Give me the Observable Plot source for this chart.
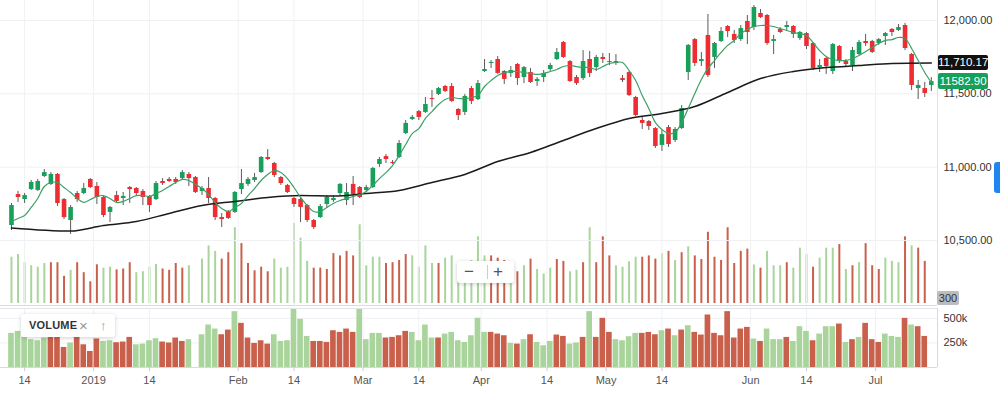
<!DOCTYPE html>
<html><head><meta charset="utf-8">
<script src="https://cdn.jsdelivr.net/npm/d3@7"></script>
<script src="https://cdn.jsdelivr.net/npm/@observablehq/plot@0.6"></script>
<style>
body{margin:0;background:#fff;font-family:"Liberation Sans",Arial,sans-serif;}
#wrap{position:relative;width:1000px;height:393px;overflow:hidden;background:#fff;}
#wrap svg{position:absolute;left:0;}
.deco{position:absolute;box-sizing:border-box;}
</style></head><body><div id="wrap"></div>
<script>
// ---- data (trading-day index i = 0..140) ----
const opens  = [10602,10813,10779,10847,10841,10936,10882,10950,10779,10636,10820,10820,10916,10868,10793,10691,10806,10786,10861,10854,10834,10800,10779,10902,10916,10916,10922,10950,10929,10834,10854,10786,10656,10697,10691,10847,10882,10909,10963,11066,11025,10929,10875,10786,10779,10738,10636,10656,10745,10772,10820,10772,10882,10861,10841,10861,11018,11072,11032,11066,11229,11325,11379,11373,11468,11495,11550,11550,11393,11373,11536,11461,11652,11707,11734,11652,11639,11700,11611,11645,11584,11611,11666,11734,11850,11720,11611,11604,11734,11679,11748,11720,11720,11604,11645,11475,11318,11311,11263,11148,11270,11182,11263,11645,11870,11720,11898,11748,11857,11959,11905,11870,11993,11952,12048,12034,11857,11939,11952,11959,11877,11911,11843,11679,11741,11652,11823,11720,11693,11768,11857,11857,11843,11891,11939,11932,11966,11768,11536,11536,11557];
const highs  = [10752,10834,10820,10909,10916,10984,10963,10957,10786,10738,10834,10888,10922,10895,10800,10732,10834,10827,10868,10861,10847,10806,10902,10922,10929,10929,10977,10963,10936,10868,10929,10793,10684,10704,10834,10984,10929,10957,11072,11120,11032,10936,10882,10793,10786,10745,10643,10745,10806,10806,10888,10888,10936,10868,10875,10998,11066,11086,11045,11182,11318,11352,11386,11475,11523,11543,11557,11570,11400,11495,11550,11591,11734,11727,11754,11659,11686,11707,11686,11673,11611,11659,11707,11809,11857,11727,11625,11795,11789,11761,11775,11775,11768,11625,11652,11482,11345,11318,11270,11250,11284,11270,11420,11836,11877,11782,12041,11850,11952,11966,11932,11966,12034,12102,12075,12041,11898,11952,11993,11966,11925,11918,11850,11734,11748,11843,11830,11734,11816,11864,11905,11864,11877,11918,11945,11973,11980,11775,11591,11577,11611];
const lows   = [10568,10759,10752,10841,10834,10929,10875,10731,10643,10541,10759,10813,10854,10745,10656,10622,10752,10738,10752,10806,10738,10691,10772,10875,10895,10882,10909,10868,10820,10806,10752,10636,10588,10643,10684,10813,10868,10895,10957,11045,10929,10875,10820,10725,10622,10622,10575,10650,10718,10759,10800,10738,10738,10786,10827,10854,10998,11025,11018,11059,11222,11318,11318,11366,11407,11488,11509,11441,11318,11352,11427,11454,11645,11673,11632,11564,11611,11557,11570,11570,11550,11577,11652,11727,11741,11577,11557,11591,11611,11652,11707,11693,11693,11577,11482,11345,11257,11250,11127,11107,11134,11168,11257,11591,11686,11686,11611,11673,11850,11884,11843,11857,11836,11932,12014,11830,11768,11911,11932,11877,11864,11802,11659,11645,11632,11632,11707,11686,11652,11761,11823,11775,11830,11830,11891,11925,11795,11523,11461,11475,11516];
const closes = [10738,10793,10806,10895,10902,10963,10950,10752,10656,10725,10779,10854,10861,10793,10670,10725,10766,10800,10847,10820,10793,10738,10888,10888,10902,10895,10963,10922,10827,10854,10786,10656,10643,10650,10827,10888,10916,10929,11066,11052,10943,10888,10827,10745,10725,10636,10588,10731,10793,10786,10882,10827,10813,10793,10861,10991,11052,11052,11025,11161,11298,11339,11339,11427,11461,11536,11516,11448,11352,11482,11448,11570,11666,11714,11639,11598,11659,11604,11679,11577,11598,11639,11693,11782,11748,11584,11570,11720,11639,11748,11734,11714,11707,11591,11488,11352,11298,11277,11141,11222,11154,11257,11400,11830,11707,11734,11625,11843,11925,11925,11864,11945,11918,12089,12020,11843,11870,11918,11966,11905,11918,11823,11673,11693,11686,11836,11720,11700,11795,11850,11843,11782,11870,11911,11918,11952,11809,11557,11557,11502,11582.90];
// short moving average (green), one reading per day
const fastMA = [10629,10650,10670,10725,10786,10868,10895,10895,10861,10827,10786,10759,10779,10800,10806,10786,10759,10766,10786,10806,10806,10800,10820,10841,10868,10895,10916,10909,10882,10854,10813,10759,10718,10697,10725,10752,10806,10854,10909,10950,10977,10963,10922,10861,10793,10738,10697,10697,10725,10752,10772,10786,10800,10813,10834,10875,10922,10963,11011,11079,11154,11229,11263,11332,11379,11427,11461,11475,11468,11468,11475,11489,11550,11591,11625,11645,11652,11652,11645,11639,11632,11639,11652,11666,11686,11693,11686,11680,11680,11666,11686,11707,11714,11714,11659,11591,11489,11400,11304,11257,11229,11236,11304,11400,11502,11598,11673,11727,11782,11830,11864,11911,11939,11959,11966,11966,11959,11945,11932,11918,11911,11898,11850,11795,11755,11734,11727,11727,11741,11761,11789,11816,11843,11864,11870,11884,11877,11809,11727,11645,11577];
// long moving average (black), read at these day indices
const slowIdx = [0,9,14,19,24,29,34,39,44,49,54,59,64,69,74,79,84,89,94,99,104,109,114,119,124,129,134,140];
const slowMA  = [10585,10564,10602,10629,10684,10738,10766,10793,10806,10803,10820,10841,10895,10950,11038,11100,11182,11263,11332,11366,11413,11509,11604,11652,11679,11693,11707,11710.17];
// volume in thousands (day 28 missing), direction u = up / d = down
const volumes = [347,367,306,283,272,300,306,306,204,249,306,231,163,290,265,272,252,259,306,231,238,272,293,259,249,300,265,283,null,333,432,391,333,381,568,449,300,245,272,238,333,265,272,600,490,316,265,265,255,374,357,391,357,590,283,347,347,300,306,323,367,357,272,432,300,300,340,357,272,255,323,500,357,357,340,323,245,238,283,333,255,221,265,330,316,238,249,306,568,306,500,357,283,272,313,347,347,357,333,374,391,323,381,425,357,330,534,347,323,568,300,391,408,289,265,391,283,283,306,265,415,367,272,340,415,415,442,255,283,306,449,283,255,340,316,306,500,432,415,316];
const volumeDir = "uuuuuudddudddduuddduuuudddduuuuudduddddduuuuuuddddddduuuudddduuuuduuuuuuudddududuuudduududdduuuudddudududdddddddduduuuduuuduuudududdduuududduduudduudduuuudddd".split("");
// axis ticks
const tickPos   = [2,12.5,21,34.5,43,53.5,62,71.5,81.5,90.5,99,112.5,121,131.5];
const tickLabel = ["14","2019","14","Feb","14","Mar","14","Apr","14","May","14","Jun","14","Jul"];
const priceTicks = [10500,11000,11500,12000];
const volTicks = [250,500];
const lastClose = closes[closes.length-1];
const lastSlow = slowMA[slowMA.length-1];

// ---- build tables ----
const candles = opens.map((o,i)=>({i,o,h:highs[i],l:lows[i],c:closes[i]}));
const fast = fastMA.map((v,i)=>({i,v}));
const slow = slowIdx.map((i,k)=>({i,v:slowMA[k]}));
const vols = volumes.map((v,i)=>({i,v,up:volumeDir[i]==="u"})).filter(d=>d.v!=null);

const G="#16a05a", R="#ee2d33", VG="#a9d59c", VR="#c9604b", GRID="#f0f1f3";
const xDomain=[-1.67,140.94];
const yDomain=[10056.3,12136.4];
const font='"Liberation Sans",Arial,sans-serif';
const wrap=document.getElementById("wrap");

// overlay volume (thin bars at bottom of price pane)
const over = Plot.plot({
  width:1000,height:305,marginLeft:0,marginRight:63,marginTop:0,marginBottom:2,
  style:{background:"transparent"},
  x:{domain:xDomain,axis:null},
  y:{domain:[0,2272],axis:null},
  color:{type:"identity"},
  marks:[
    Plot.ruleX(vols,{x:"i",y1:0,y2:"v",stroke:d=>d.up?VG:VR,strokeWidth:2})
  ]
});
over.style.top="0px";
wrap.appendChild(over);

// price pane
const main = Plot.plot({
  width:1000,height:305,marginLeft:0,marginRight:63,marginTop:0,marginBottom:0,
  style:{background:"transparent",fontFamily:font,fontSize:"11px",color:"#333"},
  x:{domain:xDomain,axis:null},
  y:{domain:yDomain,axis:null},
  color:{type:"identity"},
  marks:[
    Plot.ruleY(priceTicks,{stroke:GRID}),
    Plot.ruleX(tickPos,{stroke:GRID}),
    Plot.ruleX(candles,{x:"i",y1:"l",y2:"h",stroke:"#5b5b5b",strokeWidth:1}),
    Plot.ruleX(candles,{x:"i",y1:"o",y2:"c",stroke:d=>d.c>=d.o?G:R,strokeWidth:4.6}),
    Plot.line(slow,{x:"i",y:"v",stroke:"#1b1b1b",strokeWidth:1.5,curve:"monotone-x"}),
    Plot.line(fast,{x:"i",y:"v",stroke:"#3c9f66",strokeWidth:1.2,curve:"catmull-rom"}),
    Plot.ruleX([xDomain[1]],{stroke:"#dfe2e6"}),
    Plot.axisY(priceTicks,{anchor:"right",label:null,tickFormat:d3.format(",.2f"),tickSize:0,tickPadding:6,fill:"#333"})
  ]
});
main.style.top="0px";
wrap.appendChild(main);

// volume pane + date axis
const lower = Plot.plot({
  width:1000,height:87,marginLeft:0,marginRight:63,marginTop:2,marginBottom:26,
  style:{background:"transparent",fontFamily:font,fontSize:"11px",color:"#444"},
  x:{domain:xDomain,axis:null},
  y:{domain:[0,600],axis:null},
  color:{type:"identity"},
  marks:[
    Plot.ruleX(tickPos,{stroke:GRID}),
    Plot.ruleY(volTicks,{stroke:GRID}),
    Plot.rectY(vols,{x1:d=>d.i-0.43,x2:d=>d.i+0.43,y1:0,y2:"v",fill:d=>d.up?VG:VR}),
    Plot.ruleY([0],{stroke:"#d5dae0"}),
    Plot.ruleY([600],{stroke:"#e2e5e9"}),
    Plot.ruleX([xDomain[1]],{stroke:"#d5dae0"}),
    Plot.axisY(volTicks,{anchor:"right",label:null,tickFormat:d=>d+"k",tickSize:0,tickPadding:6,fill:"#333"}),
    Plot.axisX(tickPos,{anchor:"bottom",label:null,tickFormat:d=>tickLabel[tickPos.indexOf(d)],tickSize:4,tickPadding:5,stroke:"#c9ced4",fill:"#555"})
  ]
});
lower.style.top="306px";
wrap.appendChild(lower);

// ---- decorations ----
const yScale = d3.scaleLinear(yDomain,[305,0]);
function box(css, html){const d=document.createElement("div");d.className="deco";d.style.cssText=css;d.innerHTML=html||"";wrap.appendChild(d);return d;}
// separator between panes
box("left:0;top:305px;width:937px;height:1px;background:#d9dde2;");
// price labels
box(`left:938px;top:${yScale(lastSlow)-7.5}px;width:50px;height:15px;background:#111;color:#fff;font-size:11.5px;line-height:15px;text-align:center;border-radius:2px;`, d3.format(",.2f")(lastSlow));
box(`left:938px;top:${yScale(lastClose)-8}px;width:50px;height:16px;background:#17a05a;color:#fff;font-size:11.5px;line-height:16px;text-align:center;border-radius:2px;`, lastClose.toFixed(2));
// "300" tag
box("left:937px;top:291px;width:22px;height:14px;background:#b9bcc3;color:#333;font-size:11px;line-height:14px;text-align:center;border-radius:2px;","300");
// blue tab
box("left:994px;top:162px;width:10px;height:31px;background:#1f85ef;border-radius:3px;");
// zoom buttons
box("left:457px;top:261px;width:57px;height:22px;background:#fff;border-radius:3px;box-shadow:0 1px 4px rgba(0,0,0,.2);color:#555;font-size:17px;line-height:21px;",
  '<span style="position:absolute;left:7px;top:0">&minus;</span><span style="position:absolute;left:30px;top:4px;width:1px;height:14px;background:#ccc"></span><span style="position:absolute;left:36px;top:0">+</span>');
// VOLUME legend
box("left:21px;top:314px;width:94px;height:23px;background:#fff;border-radius:3px;box-shadow:0 1px 4px rgba(0,0,0,.18);font-size:11px;line-height:23px;color:#333;",
  '<span style="position:absolute;left:8px;font-weight:600;letter-spacing:0.2px">VOLUME</span><span style="position:absolute;left:58px;color:#999;font-size:15px">&times;</span><span style="position:absolute;left:79px;color:#999;font-size:13px">&uarr;</span>');
</script>
</body></html>
